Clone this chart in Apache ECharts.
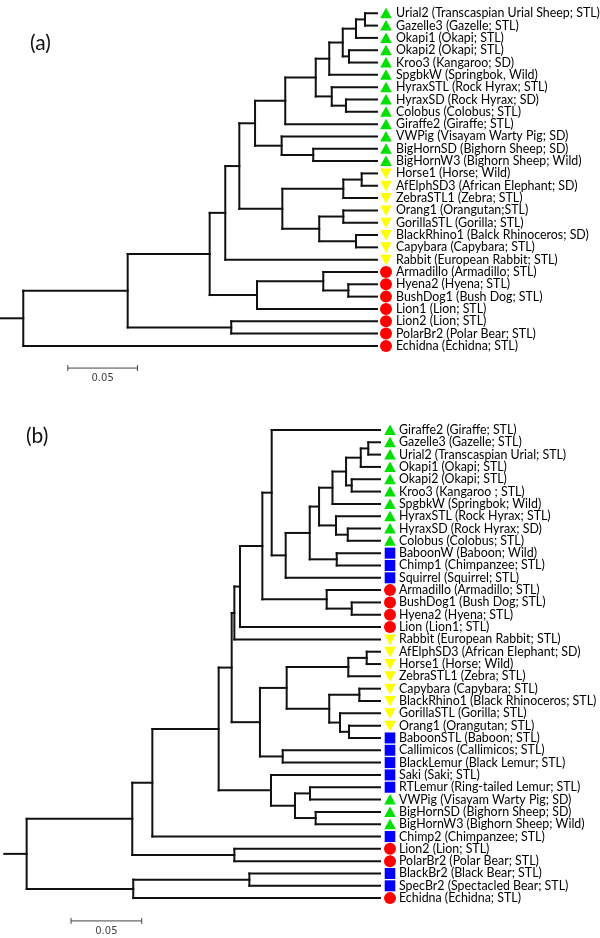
<!DOCTYPE html>
<html><head><meta charset="utf-8">
<script src="https://cdn.jsdelivr.net/npm/echarts@6/dist/echarts.min.js"></script>
<style>html,body{margin:0;padding:0;background:#fff}#c{width:600px;height:938px}</style>
</head><body><div id="c"></div>
<script>
// ---------- Tree (a) ----------
const leavesA = [
 'Urial2 (Transcaspian Urial Sheep; STL)','Gazelle3 (Gazelle; STL)','Okapi1 (Okapi; STL)','Okapi2 (Okapi; STL)',
 'Kroo3 (Kangaroo; SD)','SpgbkW (Springbok, Wild)','HyraxSTL (Rock Hyrax; STL)','HyraxSD (Rock Hyrax; SD)',
 'Colobus (Colobus; STL)','Giraffe2 (Giraffe; STL)','VWPig (Visayam Warty Pig; SD)','BigHornSD (Bighorn Sheep; SD)',
 'BigHornW3 (Bighorn Sheep; Wild)','Horse1 (Horse; Wild)','AfElphSD3 (African Elephant; SD)','ZebraSTL1 (Zebra; STL)',
 'Orang1 (Orangutan;STL)','GorillaSTL (Gorilla; STL)','BlackRhino1 (Balck Rhinoceros; SD)','Capybara (Capybara; STL)',
 'Rabbit (European Rabbit; STL)','Armadillo (Armadillo; STL)','Hyena2 (Hyena; STL)','BushDog1 (Bush Dog; STL)',
 'Lion1 (Lion; STL)','Lion2 (Lion; STL)','PolarBr2 (Polar Bear; STL)','Echidna (Echidna; STL)'];
// g = green up-triangle, y = yellow down-triangle, r = red circle, b = blue square
const groupsA = ['g','g','g','g','g','g','g','g','g','g','g','g','g','y','y','y','y','y','y','y','y','r','r','r','r','r','r','r'];
// node = [height, child, child]; a number is a leaf index
const treeA = [0.2541,[0.1791,[0.1202,[0.1090,[0.0989,[0.0876,[0.0659,[0.0440,[0.0343,[0.0246,[0.0151,[0.0086,0,1],2],[0.0201,3,4]],5],[0.0325,6,[0.0223,7,8]]],9],[0.0685,10,[0.0458,11,12]]],[0.0680,[0.0242,[0.0110,13,14],15],[0.0415,[0.0242,16,17],[0.0151,18,19]]]],20],[0.0862,[0.0386,21,[0.0206,22,23]],24]],[0.1047,25,26]],27];

// ---------- Tree (b) ----------
const leavesB = [
 'Giraffe2 (Giraffe; STL)','Gazelle3 (Gazelle; STL)','Urial2 (Transcaspian Urial; STL)','Okapi1 (Okapi; STL)',
 'Okapi2 (Okapi; STL)','Kroo3 (Kangaroo ; STL)','SpgbkW (Springbok; Wild)','HyraxSTL (Rock Hyrax; STL)',
 'HyraxSD (Rock Hyrax; SD)','Colobus (Colobus; STL)','BaboonW (Baboon; Wild)','Chimp1 (Chimpanzee; STL)',
 'Squirrel (Squirrel; STL)','Armadillo (Armadillo; STL)','BushDog1 (Bush Dog; STL)','Hyena2 (Hyena; STL)',
 'Lion (Lion1; STL)','Rabbit (European Rabbit; STL)','AfElphSD3 (African Elephant; SD)','Horse1 (Horse; Wild)',
 'ZebraSTL1 (Zebra; STL)','Capybara (Capybara; STL)','BlackRhino1 (Black Rhinoceros; STL)','GorillaSTL (Gorilla; STL)',
 'Orang1 (Orangutan; STL)','BaboonSTL (Baboon; STL)','Callimicos (Callimicos; STL)','BlackLemur (Black Lemur; STL)',
 'Saki (Saki; STL)','RTLemur (Ring-tailed Lemur; STL)','VWPig (Visayam Warty Pig; SD)','BigHornSD (Bighorn Sheep; SD)',
 'BigHornW3 (Bighorn Sheep; Wild)','Chimp2 (Chimpanzee; STL)','Lion2 (Lion; STL)','PolarBr2 (Polar Bear; STL)',
 'BlackBr2 (Black Bear; STL)','SpecBr2 (Spectacled Bear; STL)','Echidna (Echidna; STL)'];
const groupsB = ['g','g','g','g','g','g','g','g','g','g','b','b','b','r','r','r','r','y','y','y','y','y','y','y','y','b','b','b','b','b','g','g','g','b','r','r','b','b','r'];
const treeB = [0.2499,
 [0.1752,
  [0.1610,
   [0.1141,
    [0.1049,
     [0.1030,[0.0990,[0.0832,[0.0766,0,[0.0667,[0.0497,[0.0431,[0.0336,[0.0240,[0.0136,[0.0083,1,2],3],[0.0200,4,5]],6],[0.0311,7,[0.0228,8,9]]],[0.0306,10,11]],12]],[0.0377,13,[0.0200,14,15]]],16],17],
     [0.0849,[0.0660,[0.0224,[0.0094,18,19],20],[0.0359,[0.0146,21,22],[0.0283,23,[0.0219,24,25]]]],[0.0688,26,27]]],
    [0.0771,28,[0.0601,[0.0495,29,30],[0.0455,31,32]]]],
   33],
  [0.1030,34,35]],
 [0.1745,[0.0924,36,37],38]];

const scaleBarLen = 0.05;
const scaleBarLabel = '0.05';

// ---------- layout (pixels / axis extents) ----------
const cfg = {
  a: {left: 1, width: 376, top: 7.1, rowH: 12.32, n: leavesA.length, xMax: 0.2701, mOff: 9, tOff: 19,
      bar: {x: 0.2221, y: 28.8, ly: 29.6}},
  b: {left: 4.3, width: 375.7, top: 423.8, rowH: 12.32, n: leavesB.length, xMax: 0.2657, mOff: 10, tOff: 19,
      bar: {x: 0.2185, y: 39.85, ly: 40.7}}
};

function layout(tree){
  const segs = [];
  function walk(node){
    if (typeof node === 'number') return {h: 0, y: node};
    const h = node[0];
    const kids = node.slice(1).map(walk);
    const ys = kids.map(k => k.y);
    segs.push([h, Math.min(...ys), h, Math.max(...ys)]);
    kids.forEach(k => segs.push([h, k.y, k.h, k.y]));
    return {h, y: (Math.min(...ys) + Math.max(...ys)) / 2};
  }
  const r = walk(tree);
  return {segs, root: r};
}

const LA = layout(treeA), LB = layout(treeB);
LA.segs.push([cfg.a.xMax, LA.root.y, LA.root.h, LA.root.y]);
LB.segs.push([cfg.b.xMax, LB.root.y, LB.root.h, LB.root.y]);

const COLORS = {g: '#00e000', y: '#ffff00', r: '#ff0000', b: '#0000ff'};
const FONT = 'Lato, "Open Sans", sans-serif';

function branchSeries(segs, idx){
  return {
    type: 'custom', xAxisIndex: idx, yAxisIndex: idx, clip: false, silent: true,
    encode: {x: [0, 2], y: [1, 3]},
    data: segs,
    renderItem: (params, api) => {
      const p1 = api.coord([api.value(0), api.value(1)]);
      const p2 = api.coord([api.value(2), api.value(3)]);
      return {type: 'line', shape: {x1: p1[0], y1: p1[1], x2: p2[0], y2: p2[1]},
              style: {stroke: '#111', lineWidth: 2, lineCap: 'square'}};
    }
  };
}

function markerShape(g, cx, cy){
  const fill = COLORS[g];
  if (g === 'g') return {type: 'polygon', shape: {points: [[cx, cy - 5.5], [cx + 5.8, cy + 5], [cx - 5.8, cy + 5]]}, style: {fill}};
  if (g === 'y') return {type: 'polygon', shape: {points: [[cx - 5.8, cy - 5], [cx + 5.8, cy - 5], [cx, cy + 5.5]]}, style: {fill}};
  if (g === 'r') return {type: 'circle', shape: {cx, cy, r: 6}, style: {fill}};
  return {type: 'rect', shape: {x: cx - 5.3, y: cy - 5.5, width: 10.6, height: 11}, style: {fill}};
}

function leafSeries(leaves, groups, idx, c){
  return {
    type: 'custom', xAxisIndex: idx, yAxisIndex: idx, clip: false, silent: true,
    encode: {x: 0, y: 1},
    data: leaves.map((name, i) => [0, i, name, groups[i]]),
    renderItem: (params, api) => {
      const i = params.dataIndex;
      const p = api.coord([0, i]);
      return {type: 'group', children: [
        markerShape(groups[i], p[0] + c.mOff, p[1]),
        {type: 'text', style: {text: leaves[i], x: p[0] + c.tOff, y: p[1], fill: '#000',
          font: '12.4px ' + FONT, textVerticalAlign: 'middle', verticalAlign: 'middle'}}
      ]};
    }
  };
}

function scaleSeries(idx, c){
  return {
    type: 'custom', xAxisIndex: idx, yAxisIndex: idx, clip: false, silent: true,
    encode: {x: [0, 1], y: 2},
    data: [[c.bar.x, c.bar.x - scaleBarLen, c.bar.y, c.bar.ly]],
    renderItem: (params, api) => {
      const a = api.coord([api.value(0), api.value(2)]);
      const b = api.coord([api.value(1), api.value(2)]);
      const l = api.coord([(api.value(0) + api.value(1)) / 2, api.value(3)]);
      const st = {stroke: '#444', lineWidth: 1};
      return {type: 'group', children: [
        {type: 'line', shape: {x1: a[0], y1: a[1], x2: b[0], y2: b[1]}, style: st},
        {type: 'line', shape: {x1: a[0], y1: a[1] - 3, x2: a[0], y2: a[1] + 3}, style: st},
        {type: 'line', shape: {x1: b[0], y1: b[1] - 3, x2: b[0], y2: b[1] + 3}, style: st},
        {type: 'text', style: {text: scaleBarLabel, x: l[0], y: l[1], fill: '#444', font: '10px "DejaVu Sans", sans-serif',
          align: 'center', verticalAlign: 'middle'}}
      ]};
    }
  };
}

function grid(c){ return {left: c.left, width: c.width, top: c.top, height: c.n * c.rowH, containLabel: false}; }
function xAx(c, i){ return {type: 'value', gridIndex: i, min: 0, max: c.xMax, inverse: true, show: false}; }
function yAx(c, i){ return {type: 'value', gridIndex: i, min: -0.5, max: c.n - 0.5, inverse: true, show: false}; }

const chart = echarts.init(document.getElementById('c'), null, {renderer: 'canvas'});
chart.setOption({
  animation: false,
  backgroundColor: '#fff',
  title: [
    {text: '(a)', left: 25, top: 28, textStyle: {fontFamily: FONT, fontSize: 21, fontWeight: 'normal', color: '#111'}},
    {text: '(b)', left: 21, top: 421, textStyle: {fontFamily: FONT, fontSize: 21, fontWeight: 'normal', color: '#111'}}
  ],
  grid: [grid(cfg.a), grid(cfg.b)],
  xAxis: [xAx(cfg.a, 0), xAx(cfg.b, 1)],
  yAxis: [yAx(cfg.a, 0), yAx(cfg.b, 1)],
  series: [
    branchSeries(LA.segs, 0), leafSeries(leavesA, groupsA, 0, cfg.a), scaleSeries(0, cfg.a),
    branchSeries(LB.segs, 1), leafSeries(leavesB, groupsB, 1, cfg.b), scaleSeries(1, cfg.b)
  ]
});
</script></body></html>
